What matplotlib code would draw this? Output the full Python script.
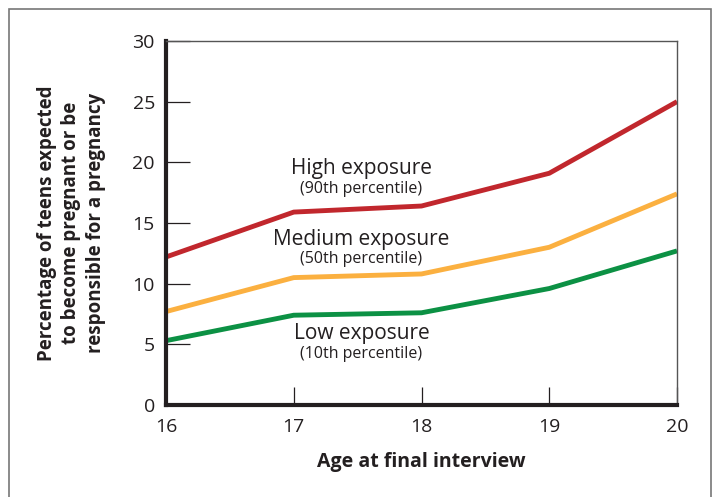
import matplotlib.pyplot as plt
from matplotlib.patches import Rectangle

plt.rcParams['font.family'] = ['Open Sans', 'DejaVu Sans']

ages = [16, 17, 18, 19, 20]
high = [12.2, 15.9, 16.4, 19.1, 25.0]
medium = [7.7, 10.5, 10.8, 13.0, 17.4]
low = [5.3, 7.4, 7.6, 9.6, 12.7]

y_ticks = [0, 5, 10, 15, 20, 25, 30]

fig = plt.figure(figsize=(7.15, 4.97), dpi=100)
ax = fig.add_axes([166 / 715, 92 / 497, 511 / 715, 364 / 497])

# outer frame
fig.patches.append(Rectangle((9 / 715, -0.05), 702 / 715, 1.05 - 9 / 497,
                             transform=fig.transFigure, fill=False,
                             edgecolor='#777777', linewidth=1.2))

ax.plot(ages, high, color='#C1272D', linewidth=3.5, solid_capstyle='butt')
ax.plot(ages, medium, color='#FBB040', linewidth=3.5, solid_capstyle='butt')
ax.plot(ages, low, color='#0C9144', linewidth=3.5, solid_capstyle='butt')

ax.set_xlim(16, 20)
ax.set_ylim(0, 30)
ax.set_xticks(ages)
ax.set_yticks(y_ticks)

ax.tick_params(axis='both', direction='in', width=0.9,
               labelsize=14, colors='#231f20')
ax.tick_params(axis='x', length=13, pad=9)
ax.tick_params(axis='y', length=17, pad=8)
for s in ['left', 'bottom']:
    ax.spines[s].set_linewidth(3)
    ax.spines[s].set_color('#231f20')
for s in ['top', 'right']:
    ax.spines[s].set_linewidth(1)
    ax.spines[s].set_color('#555555')

ax.set_xlabel('Age at final interview', fontsize=14, fontweight='bold',
              color='#231f20', labelpad=12)
ax.set_ylabel('Percentage of teens expected\nto become pregnant or be\nresponsible for a pregnancy',
              fontsize=13.5, fontweight='bold', color='#231f20', labelpad=19,
              linespacing=1.3)

labels = [('High exposure', '(90th percentile)', 19.5, 17.8),
          ('Medium exposure', '(50th percentile)', 13.6, 12.0),
          ('Low exposure', '(10th percentile)', 5.9, 4.2)]
for main, sub, y1, y2 in labels:
    ax.text(17.53, y1, main, ha='center', va='center', fontsize=15,
            color='#231f20')
    ax.text(17.53, y2, sub, ha='center', va='center', fontsize=11.5,
            color='#231f20')

fig.savefig('out.png', dpi=100)
